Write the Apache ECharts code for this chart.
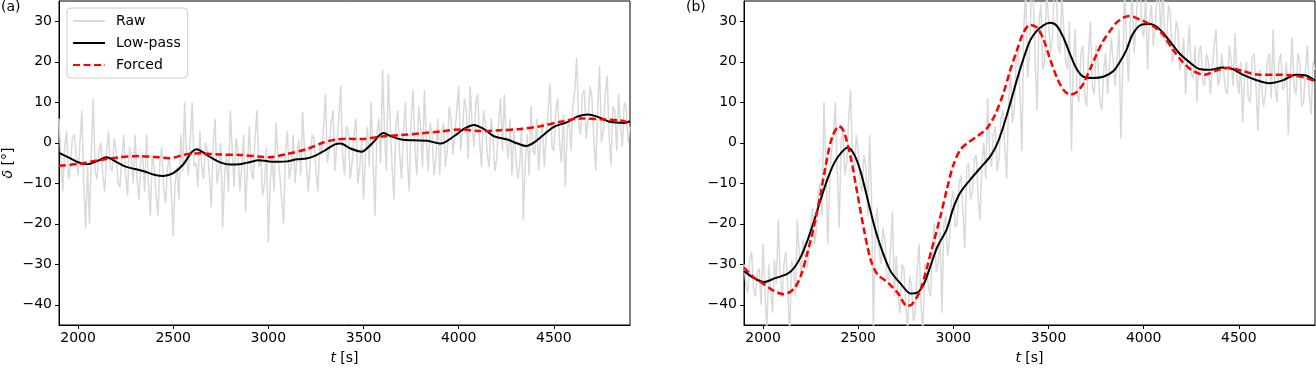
<!DOCTYPE html>
<html>
<head>
<meta charset="utf-8">
<script src="https://cdn.jsdelivr.net/npm/echarts@6/dist/echarts.min.js"></script>
<style>
html,body{margin:0;padding:0;background:#fff;}
#chart{width:1316px;height:370px;}
</style>
</head>
<body>
<div id="chart"></div>
<script>
// ---------- data ----------
var xTicks = [2000, 2500, 3000, 3500, 4000, 4500];
var yTicks = [-40, -30, -20, -10, 0, 10, 20, 30];
var xMin = 1900, xMax = 4900, yMin = -45, yMax = 35;

// raw samples every 10 s starting at 1900 s
var rawStart = 1900, rawStep = 10;
var rawA = [
  6, -4, -12, -1, 3, -9, -6, 1, 2, -3, -8, 0, 8, -10, -21, -6, -20, -2, 11, -7,
  -9, -2, 0, -8, -12, -3, 3, -6, -7, 1, -2, -10, -11, -4, 2, -8, -13, -1, -4, -10,
  2, -9, -14, -4, -3, -12, 2, -10, -18, -3, -6, -13, -18, -5, -1, -11, -15, -6, -4, -12,
  -23, -10, -6, -14, 2, -7, 10, -4, -8, 1, 10, -6, -5, -11, 3, -6, -9, 0, -2, -8,
  -16, -1, 6, -10, -7, 0, -21, -8, -3, -12, 8, -2, -11, 1, -2, -12, -6, 2, -17, -6,
  4, -7, -9, 1, 8, -6, -3, -13, -10, -1, -24.6, -9, -4, -12, 5, -3, -8, -14, -20, -2,
  3, -9, -6, 2, -10, -4, 1, -8, 7.6, -2, -5, -12, -12, 2, 1, -7, -12, 0, -3, 4,
  12, -5, -2, 5, 8, -7, 0, 6, 14, -3, -8, 4, 3, -9, -5, 2, 6, -10, -6, 1,
  -14, -3, 4, -6, 10, -4, -18, 2, 6, -5, 18, 3, -7, 17, 5, -6, -14, 4, 8, -3,
  -9, 3, 10, -4, -12, 6, 13, -2, -8, 9, 4, -6, 13, 1, -7, 5, 2, -8, -4, 6,
  -8, 2, 5, -6, -2, 9, 6, -3, -3, 8, 14, -2, 3, 11, 8, -4, 14, 5, -1, 10,
  12, 0, -6, 8, 5, -3, -6, 6, 2, -7, -4, 5, 11, -2, 12, 0, -4, 6, -8, 3,
  3, -9, -6, 4, -19, -4, 2, -8, 9, -2, -3, 6, -7, 1, 5, -6, 2, 8, 14.6, -1,
  -2, 8, 11, 0, -5, 7, -11, 3, 6, -2, 9, 13, 21, 5, 2, 12, 13, 1, 6, 14,
  11, 1, -7, 8, 19, 0, 3, 12, 16.6, 2, -5.6, 9, 8, -2, 12, 4, -1, 10, 9, 0,
  4
];
var rawB = [
  -30, -35, -37, -29, -27, -36, -38, -32, -31, -40, -25, -36, -47, -30, -36, -42, -29, -35, -19, -33,
  -38, -30, -27, -36, -48, -29, -31, -38, -19, -27, -33, -24, -24, -31, -28, -20, -16, -25, -22, -12,
  -10, -18, 10, -6, -25, -9, -2, 2, 10, -7, -21, 0, 3, -8, -5, 6, 13, -4, -8, 2,
  -2, -10, -12, -3, -6, -18, 2, -14, -46, -20, -16, -27, -30, -21, -24, -33, -34, -26, -17, -38,
  -28, -38, -42, -30, -31, -40, -46, -33, -35, -44, -42, -31, -25, -40, -47, -30, -31, -36, -38, -26,
  -20, -32, -30, -22, -42, -20, -18, -28, -24, -14, -12, -21, -20, -10, -8, -17, -26, -6, -5, -14,
  -12, -4, -3, -13, -19, -5, 0, -9, 11, -2, -6, 2, 4, -7, -4, 6, 8, -1, -9, 10,
  18, 5, 8, 20, 24, 12, -2, 28, 38, 16, 22, 38, 36, 20, 8, 30, 34, 18, 20, 38,
  38, 22, 26, 38, 40, 24, 22, 36, 36, 20, 18, 30, -2, 20, 28, 12, 10, 22, 24, 12,
  9, 22, 30, 14, 12, 24, 20, 10, 8, 18, 22, 12, 12, 26, 26, 14, 14, 28, 1, 18,
  38, 24, 15, 30, 36, 22, 30, 38, 40, 28, 26, 36, 18, 30, 34, 24, 28, 36, 38, 26,
  40, 26, 24, 34, 32, 20, 22, 30, 28, 18, 20, 26, 12, 22, 29, 17, 16, 24, 10, 22,
  24, 15, 14, 22, 20, 12, 12, 24, 28, 14, 16, 22, 22, 13, 12, 24, 20, 14, 27, 16,
  12, 20, 5, 16, 20, 11, 10, 21, 22, 14, 3, 18, 18, 9, 12, 20, 22, 11, 28, 14,
  10, 20, 22, 13, 14, 20, 2, 16, 26, 14, 12, 22, 20, 9, 10, 18, 24, 12, 7, 20,
  18
];

var tLowA = [1900,1950,2000,2050,2100,2150,2200,2250,2300,2350,2400,2450,2500,2550,2600,2625,2650,2700,2750,2800,2850,2900,2950,3000,3050,3100,3150,3200,3250,3300,3350,3380,3430,3490,3540,3605,3645,3700,3765,3835,3905,3975,4030,4080,4135,4185,4255,4310,4355,4400,4450,4500,4570,4625,4680,4730,4800,4870,4900];
var lowA  = [-2.5,-3.6,-4.8,-5.3,-4.5,-3.6,-4.7,-5.9,-6.5,-7.1,-7.9,-8.2,-7.5,-5.5,-2.2,-1.6,-2.2,-3.7,-4.9,-5.4,-5.3,-4.8,-4.3,-4.6,-4.7,-4.6,-4.1,-3.9,-3.1,-1.8,-0.4,-0.2,-1.4,-2.2,-0.4,2.4,1.6,0.8,0.6,0.5,-0.2,1.6,3.5,4.4,3.3,1.6,0.8,-0.2,-0.8,0.2,2.1,3.9,5.1,6.5,7.0,6.4,5.1,4.9,5.3];

var tForcedA = [1900,2005,2110,2215,2320,2425,2480,2565,2640,2740,2850,2950,3005,3095,3200,3285,3355,3425,3485,3590,3695,3800,3905,4010,4115,4220,4325,4430,4535,4640,4745,4850,4900];
var forcedA  = [-5.7,-5.2,-4.3,-3.6,-3.3,-3.6,-3.8,-2.9,-2.6,-2.9,-3.0,-3.4,-3.6,-2.8,-1.6,0.0,0.8,1.0,0.9,1.5,1.9,2.3,2.8,3.3,2.9,3.1,3.4,4.1,5.2,6.0,5.8,5.5,4.9];

var tLowB = [1900,1955,2005,2060,2130,2165,2200,2235,2270,2305,2340,2375,2410,2445,2480,2515,2550,2585,2620,2670,2725,2775,2810,2845,2880,2915,2965,3000,3035,3087,3140,3192,3227,3262,3298,3333,3368,3403,3438,3473,3508,3543,3578,3613,3648,3683,3735,3788,3841,3884,3910,3942,3986,4030,4082,4135,4187,4240,4292,4345,4415,4467,4520,4590,4660,4730,4800,4853,4900];
var lowB  = [-31.7,-33.5,-34.4,-33.5,-32.3,-30.8,-28,-23.9,-19,-13.7,-8.8,-4.9,-2.5,-1.2,-3.0,-7.5,-14.1,-20.6,-25.9,-31.7,-34.9,-37.2,-37.0,-34.9,-30.4,-25.8,-21.4,-16.1,-12.4,-9.2,-6.3,-3.5,-0.6,3.9,9.6,15.4,20.7,25.2,27.6,29.0,29.6,28.9,26.0,21.9,18.2,16.3,16.0,16.3,17.7,20.7,23,26.8,29.1,29.3,28.1,25.2,22.1,19.9,18.2,18.0,18.6,18.2,16.8,15.5,14.7,15.4,16.8,16.6,15.3];

var tForcedB = [1900,1953,2005,2058,2110,2163,2198,2233,2268,2303,2338,2364,2399,2425,2460,2495,2530,2565,2601,2653,2706,2758,2784,2828,2881,2933,2965,3000,3035,3070,3122,3175,3218,3262,3298,3333,3368,3403,3438,3473,3508,3543,3578,3613,3648,3683,3718,3753,3788,3823,3858,3893,3925,3977,4047,4100,4152,4205,4257,4319,4380,4450,4520,4607,4695,4782,4853,4900];
var forcedB  = [-30.8,-33.3,-34.9,-36.6,-37.4,-36,-32.9,-27.2,-20.6,-12.4,-3.5,1.5,4.1,2.7,-3.5,-12.4,-21.4,-28.8,-32.5,-34.4,-37,-40.3,-39.8,-36.2,-27.2,-18,-11.6,-5.5,-1.8,-0.2,1.5,3.5,6.8,12.1,17.8,22.7,27.2,29.1,28.5,25.6,20.7,16.2,13.1,11.9,12.5,14.6,18.2,21.9,25.2,27.6,29.7,30.9,31.3,30.5,28.9,26.8,23.1,19.9,17.8,16.8,17.8,18.5,17.7,16.8,16.8,16.6,16.0,15.2];

// ---------- helpers ----------
function pairs(ts, vs) { return vs.map(function (v, i) { return [ts[i], v]; }); }
function rawPairs(vs) { return vs.map(function (v, i) { return [rawStart + rawStep * i, v]; }); }
function minus(v) { return String(v).replace('-', '\u2212'); }

var FONT = 'DejaVu Sans';
var tickFont = { fontFamily: FONT, fontSize: 14, color: '#000' };

function xAxis(idx) {
  return {
    type: 'value', gridIndex: idx, min: xMin, max: xMax,
    name: '{i|t} [s]', nameLocation: 'middle', nameGap: 26,
    nameTextStyle: { fontFamily: FONT, fontSize: 14, color: '#000',
      rich: { i: { fontFamily: FONT, fontSize: 14, fontStyle: 'italic', color: '#000' } } },
    axisLine: { show: true, onZero: false, lineStyle: { color: '#000', width: 1 } },
    axisTick: { show: true, inside: false, length: 4, lineStyle: { color: '#000' }, customValues: xTicks },
    axisLabel: Object.assign({ margin: 6, customValues: xTicks, formatter: function (v) { return minus(v); } }, tickFont),
    splitLine: { show: false }
  };
}
function yAxis(idx, withName) {
  var a = {
    type: 'value', gridIndex: idx, min: yMin, max: yMax,
    axisLine: { show: true, onZero: false, lineStyle: { color: '#000', width: 1 } },
    axisTick: { show: true, inside: false, length: 4, lineStyle: { color: '#000' }, customValues: yTicks },
    axisLabel: Object.assign({ margin: 7, customValues: yTicks, formatter: function (v) { return minus(v); } }, tickFont),
    splitLine: { show: false }
  };
  if (withName) {
    a.name = '{i|\u03b4} [\u00b0]';
    a.nameLocation = 'middle';
    a.nameGap = 44;
    a.nameRotate = 90;
    a.nameTextStyle = { fontFamily: FONT, fontSize: 14, color: '#000',
      rich: { i: { fontFamily: FONT, fontSize: 14, fontStyle: 'italic', color: '#000' } } };
  }
  return a;
}

var rawStyle = { color: '#d9d9d9', width: 1.5 };
var lowStyle = { color: '#000000', width: 2 };
var forcedStyle = { color: '#ff0000', width: 2.5, type: [7, 3.5] };

function series(name, gi, data, style, smooth, z) {
  return {
    name: name, type: 'line', xAxisIndex: gi, yAxisIndex: gi,
    data: data, showSymbol: false, symbol: 'none', smooth: smooth,
    lineStyle: style, itemStyle: { color: style.color }, clip: true, z: z,
    animation: false
  };
}

var hiddenMark = { color: 'rgba(0,0,0,0)', borderColor: 'rgba(0,0,0,0)', borderWidth: 0, opacity: 0 };

var option = {
  animation: false,
  grid: [
    { left: 59, top: 1, width: 571, height: 325, show: true, borderColor: '#000', borderWidth: 1, backgroundColor: 'transparent' },
    { left: 744, top: 1, width: 571, height: 325, show: true, borderColor: '#000', borderWidth: 1, backgroundColor: 'transparent' }
  ],
  xAxis: [xAxis(0), xAxis(1)],
  yAxis: [yAxis(0, true), yAxis(1, false)],
  legend: {
    orient: 'vertical', left: 67, top: 8,
    data: [
      { name: 'Raw', itemStyle: hiddenMark },
      { name: 'Low-pass', itemStyle: hiddenMark },
      { name: 'Forced', itemStyle: hiddenMark }
    ],
    itemWidth: 32, itemHeight: 14, itemGap: 8,
    padding: [6, 7, 6, 5],
    itemStyle: hiddenMark,
    formatter: function (n) { return '{g|}{n|' + n + '}'; },
    backgroundColor: 'rgba(255,255,255,0.8)', borderColor: '#cccccc', borderWidth: 1, borderRadius: 4,
    textStyle: { fontFamily: FONT, fontSize: 14, color: '#000',
      rich: { g: { width: 6 }, n: { fontFamily: FONT, fontSize: 14, color: '#000' } } }
  },
  graphic: [
    { type: 'text', left: 1, top: 0, style: { text: '(a)', fontFamily: FONT, fontSize: 14, fill: '#000' } },
    { type: 'text', left: 686, top: 0, style: { text: '(b)', fontFamily: FONT, fontSize: 14, fill: '#000' } }
  ],
  series: [
    series('Raw', 0, rawPairs(rawA), rawStyle, false, 1),
    series('Low-pass', 0, pairs(tLowA, lowA), lowStyle, 0.3, 3),
    series('Forced', 0, pairs(tForcedA, forcedA), forcedStyle, 0.3, 4),
    series('Raw', 1, rawPairs(rawB), rawStyle, false, 1),
    series('Low-pass', 1, pairs(tLowB, lowB), lowStyle, 0.3, 3),
    series('Forced', 1, pairs(tForcedB, forcedB), forcedStyle, 0.3, 4)
  ]
};

var chart = echarts.init(document.getElementById('chart'), null, { renderer: 'canvas' });
chart.setOption(option);
</script>
</body>
</html>
